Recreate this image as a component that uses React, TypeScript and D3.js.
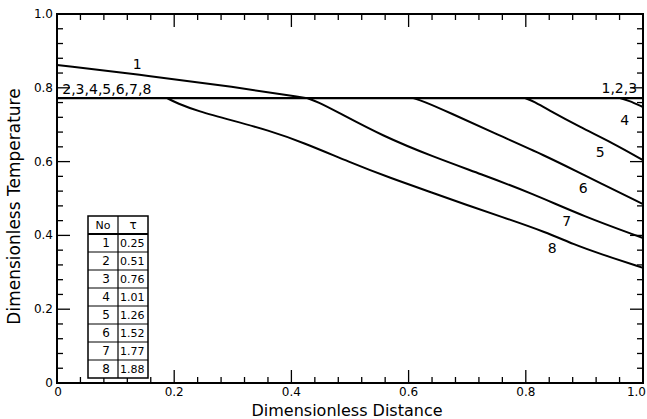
import React from "react";
import * as d3 from "d3";

// ---- data ----
const xTickValues = [0, 0.2, 0.4, 0.6, 0.8, 1.0];
const xTickLabels = ["0", "0.2", "0.4", "0.6", "0.8", "1.0"];
const yTickValues = [0, 0.2, 0.4, 0.6, 0.8, 1.0];
const yTickLabels = ["0", "0.2", "0.4", "0.6", "0.8", "1.0"];

const plateauY = 0.772;

const curve1X = [0, 0.159, 0.3, 0.427];
const curve1Y = [0.862, 0.832, 0.803, 0.772];

const curve4X = [0.961, 0.975, 1.0];
const curve4Y = [0.772, 0.766, 0.748];

const curve5X = [0.799, 0.815, 0.836, 0.892, 0.949, 1.0];
const curve5Y = [0.772, 0.762, 0.742, 0.694, 0.65, 0.604];

const curve6X = [0.608, 0.625, 0.671, 0.739, 0.836, 0.892, 1.0];
const curve6Y = [0.772, 0.764, 0.732, 0.682, 0.614, 0.569, 0.485];

const curve7X = [0.427, 0.445, 0.478, 0.556, 0.642, 0.722, 0.812, 0.898, 1.0];
const curve7Y = [0.772, 0.762, 0.735, 0.669, 0.613, 0.567, 0.513, 0.452, 0.393];

const curve8X = [0.188, 0.205, 0.24, 0.3, 0.36, 0.42, 0.5, 0.568, 0.642, 0.7, 0.756, 0.836, 0.881, 0.927, 1.0];
const curve8Y = [0.772, 0.758, 0.737, 0.711, 0.685, 0.652, 0.598, 0.556, 0.515, 0.482, 0.452, 0.408, 0.376, 0.35, 0.312];

const curveLabels = ["1", "2,3,4,5,6,7,8", "1,2,3", "4", "5", "6", "7", "8"];
const curveLabelX = [0.137, 0.009, 0.99, 0.969, 0.927, 0.898, 0.87, 0.845];
const curveLabelY = [0.864, 0.797, 0.799, 0.713, 0.626, 0.528, 0.439, 0.366];
const curveLabelAnchor = ["middle", "start", "end", "middle", "middle", "middle", "middle", "middle"];

const tableNo = ["1", "2", "3", "4", "5", "6", "7", "8"];
const tableTau = ["0.25", "0.51", "0.76", "1.01", "1.26", "1.52", "1.77", "1.88"];

// ---- layout ----
const W = 647;
const H = 419;
const left = 57;
const right = 643;
const top = 14;
const bottom = 383;
const FONT = "'DejaVu Sans', sans-serif";

export default function App() {
  const x = d3.scaleLinear().domain([0, 1]).range([left, right]);
  const y = d3.scaleLinear().domain([0, 1]).range([bottom, top]);

  const line = d3
    .line<[number, number]>()
    .x((d) => x(d[0]))
    .y((d) => y(d[1]))
    .curve(d3.curveBasis);

  const zip = (xs: number[], ys: number[]) => xs.map((v, i) => [v, ys[i]] as [number, number]);
  const curves = [
    zip(curve1X, curve1Y),
    zip(curve4X, curve4Y),
    zip(curve5X, curve5Y),
    zip(curve6X, curve6Y),
    zip(curve7X, curve7Y),
    zip(curve8X, curve8Y),
  ];

  const minorTicks = d3.range(0, 26).map((i) => i * 0.04);
  const isMajor = (v: number) => Math.abs(v / 0.2 - Math.round(v / 0.2)) < 1e-6;
  const majorLen = 13;
  const minorLen = 6;

  // table geometry
  const tL = 88, tM = 118, tR = 148, tTop = 216, rowH = 18;
  const tBottom = tTop + rowH * (tableNo.length + 1);

  return (
    <svg
      width={W}
      height={H}
      style={{ position: "absolute", left: 0, top: 0, background: "#fff" }}
      fontFamily={FONT}
    >
      <rect x={0} y={0} width={W} height={H} fill="#fff" />
      {/* frame */}
      <rect x={left} y={top} width={right - left} height={bottom - top} fill="none" stroke="#000" strokeWidth={2} />

      {/* ticks */}
      {minorTicks.map((v, i) => {
        const len = isMajor(v) ? majorLen : minorLen;
        return (
          <g key={"t" + i} stroke="#000" strokeWidth={1.3}>
            <line x1={x(v)} x2={x(v)} y1={bottom} y2={bottom - len} />
            <line x1={x(v)} x2={x(v)} y1={top} y2={top + len} />
            <line x1={left} x2={left + len} y1={y(v)} y2={y(v)} />
            <line x1={right} x2={right - len} y1={y(v)} y2={y(v)} />
          </g>
        );
      })}

      {/* tick labels */}
      {xTickValues.map((v, i) => (
        <text
          key={"xl" + i}
          x={i === 0 ? x(v) + 1 : i === xTickValues.length - 1 ? 646 : x(v)}
          y={396}
          textAnchor={i === xTickValues.length - 1 ? "end" : "middle"}
          fontSize={12}
        >
          {xTickLabels[i]}
        </text>
      ))}
      {yTickValues.map((v, i) => (
        <text
          key={"yl" + i}
          x={53}
          y={y(v)}
          textAnchor="end"
          dominantBaseline="central"
          fontSize={12}
        >
          {yTickLabels[i]}
        </text>
      ))}

      {/* axis titles */}
      <text x={(left + right) / 2 - 3} y={416} textAnchor="middle" fontSize={16}>
        Dimensionless Distance
      </text>
      <text
        transform={`translate(20, ${(top + bottom) / 2 + 8}) rotate(-90)`}
        textAnchor="middle"
        fontSize={17}
      >
        Dimensionless Temperature
      </text>

      {/* plateau line (curves 2,3 and start of all others) */}
      <line x1={x(0)} x2={x(1)} y1={y(plateauY)} y2={y(plateauY)} stroke="#000" strokeWidth={2.2} />

      {/* curves */}
      {curves.map((c, i) => (
        <path key={"c" + i} d={line(c) || ""} fill="none" stroke="#000" strokeWidth={2} />
      ))}

      {/* curve labels */}
      {curveLabels.map((t, i) => (
        <text
          key={"cl" + i}
          x={x(curveLabelX[i])}
          y={y(curveLabelY[i])}
          textAnchor={curveLabelAnchor[i] as any}
          dominantBaseline="central"
          fontSize={14}
        >
          {t}
        </text>
      ))}

      {/* table */}
      <g>
        <rect x={tL} y={tTop} width={tR - tL} height={tBottom - tTop} fill="#fff" stroke="#000" strokeWidth={1.5} />
        <line x1={tM} x2={tM} y1={tTop} y2={tBottom} stroke="#000" strokeWidth={1.2} />
        {tableNo.map((_, i) => (
          <line
            key={"rl" + i}
            x1={tL}
            x2={tR}
            y1={tTop + rowH * (i + 1)}
            y2={tTop + rowH * (i + 1)}
            stroke="#000"
            strokeWidth={i === 0 ? 2 : 1}
          />
        ))}
        <text x={(tL + tM) / 2} y={tTop + rowH / 2} textAnchor="middle" dominantBaseline="central" fontSize={11}>
          No
        </text>
        <text x={(tM + tR) / 2} y={tTop + rowH / 2} textAnchor="middle" dominantBaseline="central" fontSize={12}>
          τ
        </text>
        {tableNo.map((n, i) => (
          <g key={"tr" + i}>
            <text x={(tL + tM) / 2 + 3} y={tTop + rowH * (i + 1.5)} textAnchor="middle" dominantBaseline="central" fontSize={12}>
              {n}
            </text>
            <text x={tM + 2} y={tTop + rowH * (i + 1.5)} textAnchor="start" dominantBaseline="central" fontSize={11}>
              {tableTau[i]}
            </text>
          </g>
        ))}
      </g>
    </svg>
  );
}
